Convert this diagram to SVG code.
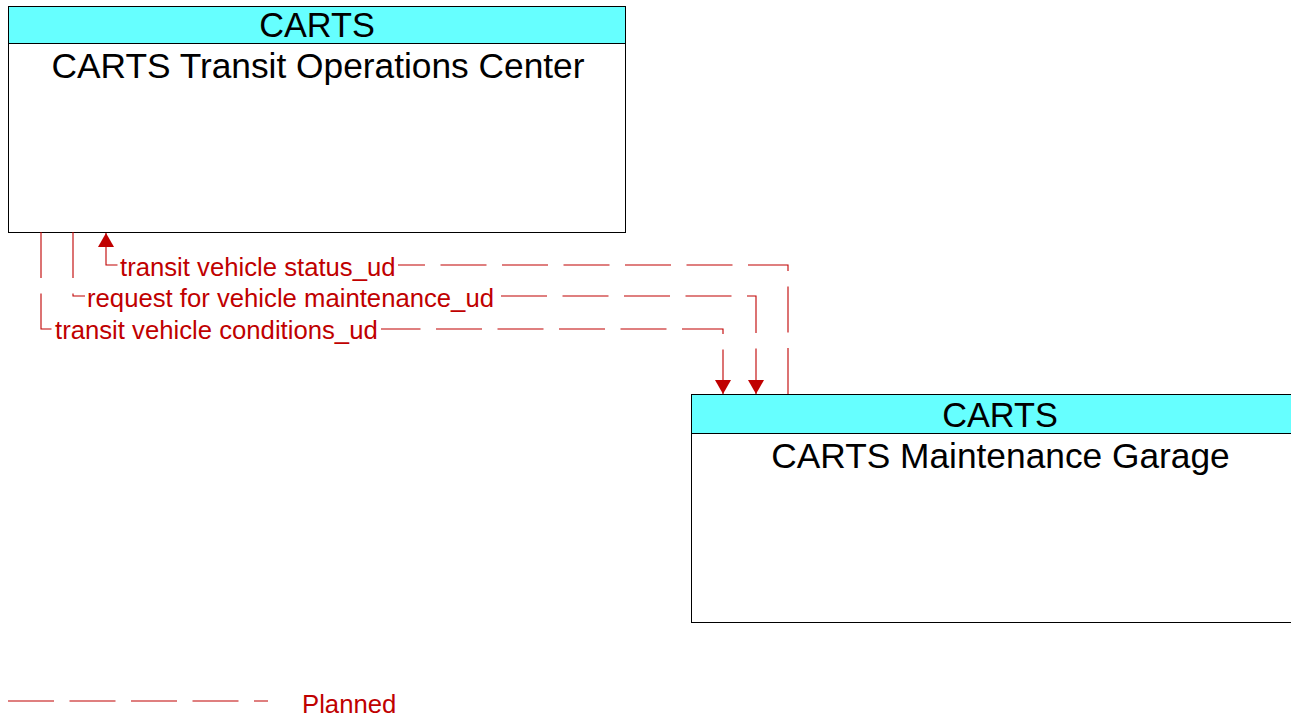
<svg xmlns="http://www.w3.org/2000/svg" width="1291" height="718" viewBox="0 0 1291 718">
<style>
.box{fill:#fff;stroke:#000;stroke-width:1}
.hdr{fill:#66FFFF;stroke:#000;stroke-width:1}
.t{font-family:"Liberation Sans",Arial,sans-serif;font-size:34.3px;fill:#000;text-anchor:middle}
.tt{font-size:35.3px}
.flow{fill:none;stroke:#C00000;stroke-width:1.1;stroke-dasharray:46 15.5}
.lbl{font-family:"Liberation Sans",Arial,sans-serif;font-size:25.7px;fill:#C00000}
</style>
<defs>
<marker id="ah" markerUnits="userSpaceOnUse" viewBox="0 0 14 16" refX="14" refY="8" markerWidth="14" markerHeight="16" orient="auto">
<path d="M0,0 L14,8 L0,16 Z" fill="#C00000"/>
</marker>
</defs>
<g id="node-toc">
<rect class="box" x="8.5" y="6.5" width="617" height="226"/>
<rect class="hdr" x="8.5" y="6.5" width="617" height="37"/>
<text class="t" x="317" y="37">CARTS</text>
<text class="t tt" x="318" y="78">CARTS Transit Operations Center</text>
</g>
<g id="node-garage">
<rect class="box" x="691.5" y="394.5" width="618" height="228"/>
<rect class="hdr" x="691.5" y="394.5" width="618" height="39"/>
<text class="t" x="1000" y="427">CARTS</text>
<text class="t tt" x="1000.5" y="468">CARTS Maintenance Garage</text>
</g>
<g id="connectors">
<path class="flow" d="M788,394 V265 H106 V233" marker-end="url(#ah)"/>
<path class="flow" d="M73,232 V296 H756 V394" marker-end="url(#ah)"/>
<path class="flow" d="M41,232 V329 H723 V394" marker-end="url(#ah)"/>
<rect x="118" y="255" width="280" height="24" fill="#fff"/>
<rect x="85" y="286" width="413" height="24" fill="#fff"/>
<rect x="53" y="318" width="328" height="24" fill="#fff"/>
<text class="lbl" x="120" y="276">transit vehicle status_ud</text>
<text class="lbl" x="87" y="307">request for vehicle maintenance_ud</text>
<text class="lbl" x="55" y="339">transit vehicle conditions_ud</text>
</g>
<g id="legend">
<path class="flow" d="M8,701 H268"/>
<text class="lbl" x="302" y="713">Planned</text>
</g>
</svg>
